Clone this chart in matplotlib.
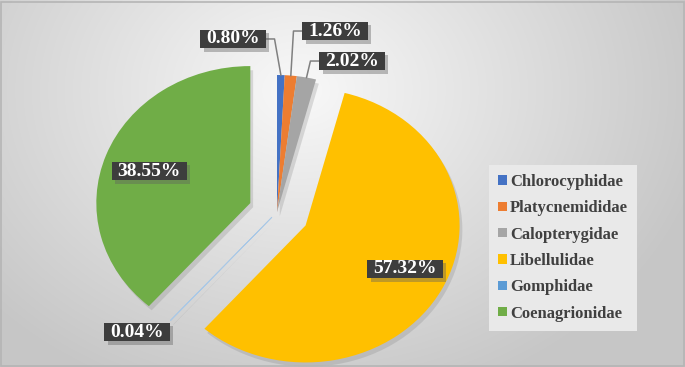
import matplotlib
matplotlib.use("Agg")
import matplotlib.pyplot as plt
import matplotlib.patheffects as pe
from matplotlib.patches import Rectangle
from matplotlib.path import Path
import numpy as np

families = ["Chlorocyphidae", "Platycnemididae", "Calopterygidae",
            "Libellulidae", "Gomphidae", "Coenagrionidae"]
shares = [0.80, 1.26, 2.02, 57.32, 0.04, 38.55]
pct_labels = ["0.80%", "1.26%", "2.02%", "57.32%", "0.04%", "38.55%"]
colors = ["#4472C4", "#ED7D31", "#A5A5A5", "#FFC000", "#5B9BD5", "#70AD47"]
explode = [0, 0, 0, 0.21, 0.05, 0.185]

# label box centres (data units) and which ones get elbow leader lines
label_pos = [(-0.286, 1.263), (0.377, 1.321), (0.487, 1.102),
             (0.831, -0.416), (-0.909, -0.876), (-0.831, 0.299)]
leader = [True, True, True, False, False, False]


def label_box(x0, y0, width, height, mutation_size):
    # wider horizontal padding than vertical, like the Excel data labels
    hp, vp = 0.3 * mutation_size, 0.03 * mutation_size
    x0, y0, x1, y1 = x0 - hp, y0 - vp, x0 + width + hp, y0 + height + vp
    return Path([(x0, y0), (x1, y0), (x1, y1), (x0, y1), (x0, y0)], closed=True)


W, H = 685, 367
fig = plt.figure(figsize=(W / 100, H / 100), dpi=100)

# soft radial grey background
bg = fig.add_axes([0, 0, 1, 1], zorder=-2)
yy, xx = np.mgrid[0:H, 0:W]
r = np.hypot((xx - 300) / 420, (yy - 90) / 330)
shade = np.clip(0.975 - 0.2 * r, 0.78, 1)
bg.imshow(np.dstack([shade] * 3), aspect="auto", extent=(0, 1, 0, 1))
bg.axis("off")
fig.patches.append(Rectangle((0.002, 0.004), 0.996, 0.99, transform=fig.transFigure,
                             fill=False, ec="#b5b5b5", lw=1.2))

ax = fig.add_axes([0, 0, 1, 1])
ax.patch.set_alpha(0)
wedges, _ = ax.pie(shares, colors=colors, startangle=90, counterclock=False,
                   explode=explode, radius=1, wedgeprops=dict(linewidth=0))
for w in wedges:
    w.set_path_effects([pe.SimplePatchShadow(offset=(2, -3), shadow_rgbFace="#808080", alpha=0.25),
                        pe.Normal()])
wedges[4].set_edgecolor("#a9c8e6")
wedges[4].set_linewidth(0.6)

ax.set_aspect("auto")
cx, cy = 277, 155  # pie centre in pixels (from bottom)
ux, uy = 154, 137  # pixels per unit
ax.set_xlim(-cx / ux, (W - cx) / ux)
ax.set_ylim(-cy / uy, (H - cy) / uy)
ax.axis("off")

half_w = 0.21  # rough half width of a small label box, data units
for i, (txt, (lx, ly)) in enumerate(zip(pct_labels, label_pos)):
    t = ax.text(lx, ly, txt, ha="center", va="center", color="white",
                fontsize=14, fontweight="bold", family="Liberation Serif", zorder=6,
                bbox=dict(boxstyle=label_box, fc="#3d3d3d", ec="none"))
    t.get_bbox_patch().set_path_effects([
        pe.SimplePatchShadow(offset=(2.5, -2.5), shadow_rgbFace="#606060", alpha=0.4), pe.Normal()])
    if leader[i]:
        w = wedges[i]
        mid = np.deg2rad((w.theta1 + w.theta2) / 2)
        px, py = w.center[0] + w.r * np.cos(mid), w.center[1] + w.r * np.sin(mid)
        side = 1 if px > lx else -1
        ex = lx + side * half_w
        kx = ex + side * 0.06
        ax.plot([ex, kx, px], [ly, ly, py], color="#808080", lw=1.1, zorder=4)

leg = ax.legend(wedges, families, loc="upper left", bbox_to_anchor=(0.714, 0.551),
                bbox_transform=fig.transFigure, frameon=True, fancybox=False,
                facecolor="#e9e9e9", edgecolor="none", framealpha=1,
                handlelength=0.5, handleheight=0.5, handletextpad=0.2,
                labelspacing=0.62, borderpad=0.55, borderaxespad=0,
                prop=dict(family="Liberation Serif", weight="bold", size=12))
for txt in leg.get_texts():
    txt.set_color("#404040")
for h in leg.legend_handles:
    h.set_path_effects([])
    h.set_edgecolor("none")

fig.savefig("out.png", dpi=100)
